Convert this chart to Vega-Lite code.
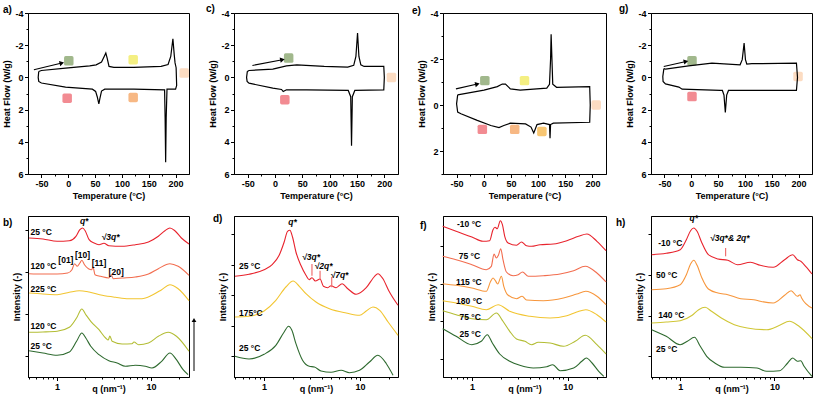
{
"$schema":"https://vega.github.io/schema/vega-lite/v6.json",
"padding":{"left":2,"top":3,"right":2,"bottom":4},
"bounds":"flush",
"align":"each",
"columns":4,
"spacing":{"row":42,"column":45},
"config":{"font":"Liberation Sans","view":{"stroke":"#000","strokeWidth":1},
"axis":{"domainColor":"#000","domainWidth":1,"tickColor":"#000","tickWidth":1,"labelColor":"#000","titleColor":"#000","labelFontWeight":"bold","titleFontWeight":"bold","labelFontSize":9,"titleFontSize":9,"grid":false,"labelPadding":1.5,"titlePadding":3,"labelFlush":false,"labelOverlap":false},
"title":{"fontSize":10,"fontWeight":"bold","anchor":"start","color":"#000","frame":"group","baseline":"alphabetic"}},
"concat":[
{"width":161,"height":161,"title":{"text":"a)","dx":-25,"offset":-5.5},
"encoding":{"x":{"field":"t","type":"quantitative","scale":{"domain":[-75,225],"nice":false,"zero":false},"axis":{"title":"Temperature (°C)","labelOverlap":false,"values":[-50,-25,0,25,50,75,100,125,150,175,200],"labelExpr":"datum.value % 50 == 0 ? '' + datum.value : ''","tickSize":{"condition":{"test":"datum.value % 50 == 0","value":3.5},"value":2}}},
"y":{"field":"hf","type":"quantitative","scale":{"domain":[-4,6],"reverse":true,"nice":false,"zero":false},"axis":{"title":"Heat Flow (W/g)","labelOverlap":false,"values":[-4,-3,-2,-1,0,1,2,3,4,5,6],"labelExpr":"datum.value % 2 == 0 ? '' + datum.value : ''","tickSize":{"condition":{"test":"datum.value % 2 == 0","value":3.5},"value":2}}}},
"layer":[
{"data":{"values":[{"t":1,"hf":-1.03,"c":"sqgreen"},{"t":121,"hf":-1.1,"c":"sqyellow"},{"t":216,"hf":-0.27,"c":"sqpeach"},{"t":-2,"hf":1.29,"c":"sqred"},{"t":121,"hf":1.25,"c":"sqorange"}]},
"mark":{"type":"point","shape":"M-0.65,-1H0.65Q1,-1,1,-0.65V0.65Q1,1,0.65,1H-0.65Q-1,1,-1,0.65V-0.65Q-1,-1,-0.65,-1Z","filled":true,"opacity":1,"size":90},
"encoding":{"color":{"field":"c","type":"nominal","legend":null,"scale":{"domain":["red","ored","orange","yellow","lime","ygreen","green","sqgreen","sqyellow","sqpeach","sqred","sqorange","sqlorange"],"range":["#e8232d","#f26d4f","#f7963c","#f2c531","#d0c636","#b3bd34","#2e6a2f","#a1b88c","#f4ef82","#fcdcc2","#f28b92","#f7b884","#f8c672"]}}}},
{"data":{"values":[{"i":1,"t":-55,"hf":-0.37},{"i":2,"t":-50,"hf":-0.43},{"i":3,"t":-5,"hf":-0.58},{"i":4,"t":40,"hf":-0.72},{"i":5,"t":52,"hf":-0.78},{"i":6,"t":62,"hf":-0.95},{"i":7,"t":67,"hf":-1.3},{"i":8,"t":70,"hf":-1.51},{"i":9,"t":72.5,"hf":-1.2},{"i":10,"t":76,"hf":-0.68},{"i":11,"t":85,"hf":-0.62},{"i":12,"t":122,"hf":-0.62},{"i":13,"t":173,"hf":-0.68},{"i":14,"t":186,"hf":-0.8},{"i":15,"t":191,"hf":-1.3},{"i":16,"t":195,"hf":-2.4},{"i":17,"t":197.5,"hf":-1.4},{"i":18,"t":199,"hf":-0.9},{"i":19,"t":201,"hf":-0.6},{"i":20,"t":202,"hf":0.5},{"i":21,"t":200,"hf":0.73},{"i":22,"t":184,"hf":0.73},{"i":23,"t":182.5,"hf":2.5},{"i":24,"t":181.5,"hf":5.27},{"i":25,"t":180.5,"hf":2.5},{"i":26,"t":179.5,"hf":0.77},{"i":27,"t":122,"hf":0.73},{"i":28,"t":68,"hf":0.73},{"i":29,"t":62,"hf":0.85},{"i":30,"t":59,"hf":1.3},{"i":31,"t":57,"hf":1.64},{"i":32,"t":54,"hf":1.2},{"i":33,"t":51,"hf":0.87},{"i":34,"t":45,"hf":0.73},{"i":35,"t":-5,"hf":0.6},{"i":36,"t":-50,"hf":0.35},{"i":37,"t":-55,"hf":0.25},{"i":38,"t":-56,"hf":0},{"i":39,"t":-55,"hf":-0.37}]},
"mark":{"type":"line","color":"#000","strokeWidth":1.2},
"encoding":{"order":{"field":"i","type":"quantitative"}}},
{"data":{"values":[{"t":-64,"hf":-0.47,"t2":-12,"hf2":-0.89}]},
"mark":{"type":"rule","color":"#000","strokeWidth":1.1},"encoding":{"x2":{"field":"t2"},"y2":{"field":"hf2"}}},
{"data":{"values":[{"t":-12,"hf":-0.89}]},
"mark":{"type":"point","shape":"triangle-right","filled":true,"opacity":1,"color":"#000","size":28,"angle":346},"encoding":{}}
]},
{"width":164,"height":161,"title":{"text":"c)","dx":-28,"offset":-4.5},
"encoding":{"x":{"field":"t","type":"quantitative","scale":{"domain":[-75,225],"nice":false,"zero":false},"axis":{"title":"Temperature (°C)","labelOverlap":false,"values":[-50,-25,0,25,50,75,100,125,150,175,200],"labelExpr":"datum.value % 50 == 0 ? '' + datum.value : ''","tickSize":{"condition":{"test":"datum.value % 50 == 0","value":3.5},"value":2}}},
"y":{"field":"hf","type":"quantitative","scale":{"domain":[-4,6],"reverse":true,"nice":false,"zero":false},"axis":{"title":"Heat Flow (W/g)","labelOverlap":false,"values":[-4,-3,-2,-1,0,1,2,3,4,5,6],"labelExpr":"datum.value % 2 == 0 ? '' + datum.value : ''","tickSize":{"condition":{"test":"datum.value % 2 == 0","value":3.5},"value":2}}}},
"layer":[
{"data":{"values":[{"t":25,"hf":-1.2,"c":"sqgreen"},{"t":18,"hf":1.39,"c":"sqred"},{"t":213,"hf":0,"c":"sqpeach"}]},
"mark":{"type":"point","shape":"M-0.65,-1H0.65Q1,-1,1,-0.65V0.65Q1,1,0.65,1H-0.65Q-1,1,-1,0.65V-0.65Q-1,-1,-0.65,-1Z","filled":true,"opacity":1,"size":90},
"encoding":{"color":{"field":"c","type":"nominal","legend":null,"scale":{"domain":["red","ored","orange","yellow","lime","ygreen","green","sqgreen","sqyellow","sqpeach","sqred","sqorange","sqlorange"],"range":["#e8232d","#f26d4f","#f7963c","#f2c531","#d0c636","#b3bd34","#2e6a2f","#a1b88c","#f4ef82","#fcdcc2","#f28b92","#f7b884","#f8c672"]}}}},
{"data":{"values":[{"i":1,"t":-50.6,"hf":-0.37},{"i":2,"t":-47.5,"hf":-0.43},{"i":3,"t":-4,"hf":-0.51},{"i":4,"t":21,"hf":-0.72},{"i":5,"t":40,"hf":-0.78},{"i":6,"t":90,"hf":-0.68},{"i":7,"t":133,"hf":-0.64},{"i":8,"t":144,"hf":-0.75},{"i":9,"t":148,"hf":-1.3},{"i":10,"t":151,"hf":-2.76},{"i":11,"t":153.5,"hf":-1.3},{"i":12,"t":157,"hf":-0.78},{"i":13,"t":163,"hf":-0.68},{"i":14,"t":199,"hf":-0.68},{"i":15,"t":200,"hf":0},{"i":16,"t":199,"hf":0.77},{"i":17,"t":146,"hf":0.81},{"i":18,"t":141.5,"hf":1.2},{"i":19,"t":140,"hf":4.24},{"i":20,"t":138.5,"hf":1.2},{"i":21,"t":134,"hf":0.81},{"i":22,"t":58,"hf":0.77},{"i":23,"t":21,"hf":0.77},{"i":24,"t":15,"hf":0.88},{"i":25,"t":12,"hf":0.75},{"i":26,"t":-4,"hf":0.67},{"i":27,"t":-47.5,"hf":0.36},{"i":28,"t":-51,"hf":0.25},{"i":29,"t":-52,"hf":0},{"i":30,"t":-50.6,"hf":-0.37}]},
"mark":{"type":"line","color":"#000","strokeWidth":1.2},
"encoding":{"order":{"field":"i","type":"quantitative"}}},
{"data":{"values":[{"t":-41.3,"hf":-0.74,"t2":13.6,"hf2":-1.1}]},
"mark":{"type":"rule","color":"#000","strokeWidth":1.1},"encoding":{"x2":{"field":"t2"},"y2":{"field":"hf2"}}},
{"data":{"values":[{"t":13.6,"hf":-1.1}]},
"mark":{"type":"point","shape":"triangle-right","filled":true,"opacity":1,"color":"#000","size":28,"angle":349},"encoding":{}}
]},
{"width":163,"height":161,"title":{"text":"e)","dx":-31,"offset":-7},
"encoding":{"x":{"field":"t","type":"quantitative","scale":{"domain":[-75,225],"nice":false,"zero":false},"axis":{"title":"Temperature (°C)","labelOverlap":false,"values":[-50,-25,0,25,50,75,100,125,150,175,200],"labelExpr":"datum.value % 50 == 0 ? '' + datum.value : ''","tickSize":{"condition":{"test":"datum.value % 50 == 0","value":3.5},"value":2}}},
"y":{"field":"hf","type":"quantitative","scale":{"domain":[-4,3],"reverse":true,"nice":false,"zero":false},"axis":{"title":"Heat Flow (W/g)","labelOverlap":false,"values":[-4,-3,-2,-1,0,1,2,3],"labelExpr":"datum.value % 2 == 0 ? '' + datum.value : ''","tickSize":{"condition":{"test":"datum.value % 2 == 0","value":3.5},"value":2}}}},
"layer":[
{"data":{"values":[{"t":2,"hf":-1.06,"c":"sqgreen"},{"t":75,"hf":-1.06,"c":"sqyellow"},{"t":207,"hf":0,"c":"sqpeach"},{"t":-2.6,"hf":1.06,"c":"sqred"},{"t":57,"hf":1.06,"c":"sqorange"},{"t":107,"hf":1.15,"c":"sqlorange"}]},
"mark":{"type":"point","shape":"M-0.65,-1H0.65Q1,-1,1,-0.65V0.65Q1,1,0.65,1H-0.65Q-1,1,-1,0.65V-0.65Q-1,-1,-0.65,-1Z","filled":true,"opacity":1,"size":90},
"encoding":{"color":{"field":"c","type":"nominal","legend":null,"scale":{"domain":["red","ored","orange","yellow","lime","ygreen","green","sqgreen","sqyellow","sqpeach","sqred","sqorange","sqlorange"],"range":["#e8232d","#f26d4f","#f7963c","#f2c531","#d0c636","#b3bd34","#2e6a2f","#a1b88c","#f4ef82","#fcdcc2","#f28b92","#f7b884","#f8c672"]}}}},
{"data":{"values":[{"i":1,"t":-48,"hf":-0.44},{"i":2,"t":0.5,"hf":-0.65},{"i":3,"t":25,"hf":-0.8},{"i":4,"t":34,"hf":-0.91},{"i":5,"t":40,"hf":-0.91},{"i":6,"t":49,"hf":-0.7},{"i":7,"t":67,"hf":-0.65},{"i":8,"t":116,"hf":-0.73},{"i":9,"t":121,"hf":-0.9},{"i":10,"t":123,"hf":-2},{"i":11,"t":124,"hf":-3.08},{"i":12,"t":125.5,"hf":-2},{"i":13,"t":127,"hf":-0.9},{"i":14,"t":134,"hf":-0.77},{"i":15,"t":195,"hf":-0.8},{"i":16,"t":196,"hf":0},{"i":17,"t":195,"hf":0.75},{"i":18,"t":128,"hf":0.79},{"i":19,"t":123,"hf":0.85},{"i":20,"t":122,"hf":1.45},{"i":21,"t":121,"hf":0.85},{"i":22,"t":110,"hf":0.79},{"i":23,"t":98,"hf":0.85},{"i":24,"t":94,"hf":1.1},{"i":25,"t":92,"hf":1.22},{"i":26,"t":87,"hf":0.96},{"i":27,"t":77,"hf":0.82},{"i":28,"t":49,"hf":0.79},{"i":29,"t":37,"hf":0.89},{"i":30,"t":28,"hf":0.98},{"i":31,"t":13,"hf":0.89},{"i":32,"t":-12,"hf":0.67},{"i":33,"t":-42,"hf":0.38},{"i":34,"t":-48,"hf":0.31},{"i":35,"t":-50,"hf":-0.05},{"i":36,"t":-48,"hf":-0.44}]},
"mark":{"type":"line","color":"#000","strokeWidth":1.2},
"encoding":{"order":{"field":"i","type":"quantitative"}}},
{"data":{"values":[{"t":-51.2,"hf":-0.7,"t2":-11.7,"hf2":-0.91}]},
"mark":{"type":"rule","color":"#000","strokeWidth":1.1},"encoding":{"x2":{"field":"t2"},"y2":{"field":"hf2"}}},
{"data":{"values":[{"t":-11.7,"hf":-0.91}]},
"mark":{"type":"point","shape":"triangle-right","filled":true,"opacity":1,"color":"#000","size":28,"angle":347},"encoding":{}}
]},
{"width":161,"height":161,"title":{"text":"g)","dx":-32,"offset":-4.5},
"encoding":{"x":{"field":"t","type":"quantitative","scale":{"domain":[-75,225],"nice":false,"zero":false},"axis":{"title":"Temperature (°C)","labelOverlap":false,"values":[-50,-25,0,25,50,75,100,125,150,175,200],"labelExpr":"datum.value % 50 == 0 ? '' + datum.value : ''","tickSize":{"condition":{"test":"datum.value % 50 == 0","value":3.5},"value":2}}},
"y":{"field":"hf","type":"quantitative","scale":{"domain":[-4,6],"reverse":true,"nice":false,"zero":false},"axis":{"title":"Heat Flow (W/g)","labelOverlap":false,"values":[-4,-3,-2,-1,0,1,2,3,4,5,6],"labelExpr":"datum.value % 2 == 0 ? '' + datum.value : ''","tickSize":{"condition":{"test":"datum.value % 2 == 0","value":3.5},"value":2}}}},
"layer":[
{"data":{"values":[{"t":1.4,"hf":-1.03,"c":"sqgreen"},{"t":1.4,"hf":1.19,"c":"sqred"},{"t":199,"hf":-0.06,"c":"sqpeach"}]},
"mark":{"type":"point","shape":"M-0.65,-1H0.65Q1,-1,1,-0.65V0.65Q1,1,0.65,1H-0.65Q-1,1,-1,0.65V-0.65Q-1,-1,-0.65,-1Z","filled":true,"opacity":1,"size":90},
"encoding":{"color":{"field":"c","type":"nominal","legend":null,"scale":{"domain":["red","ored","orange","yellow","lime","ygreen","green","sqgreen","sqyellow","sqpeach","sqred","sqorange","sqlorange"],"range":["#e8232d","#f26d4f","#f7963c","#f2c531","#d0c636","#b3bd34","#2e6a2f","#a1b88c","#f4ef82","#fcdcc2","#f28b92","#f7b884","#f8c672"]}}}},
{"data":{"values":[{"i":1,"t":-51,"hf":-0.55},{"i":2,"t":-48,"hf":-0.51},{"i":3,"t":-5,"hf":-0.72},{"i":4,"t":38.5,"hf":-0.89},{"i":5,"t":91,"hf":-0.78},{"i":6,"t":95,"hf":-1.1},{"i":7,"t":98.5,"hf":-2.13},{"i":8,"t":101,"hf":-1.1},{"i":9,"t":103.5,"hf":-0.83},{"i":10,"t":113,"hf":-0.85},{"i":11,"t":196,"hf":-0.89},{"i":12,"t":198,"hf":0},{"i":13,"t":196,"hf":0.81},{"i":14,"t":69.4,"hf":0.81},{"i":15,"t":66,"hf":1.1},{"i":16,"t":63.5,"hf":2.18},{"i":17,"t":61,"hf":1.1},{"i":18,"t":58,"hf":0.81},{"i":19,"t":54,"hf":0.81},{"i":20,"t":-17,"hf":0.73},{"i":21,"t":-23,"hf":0.6},{"i":22,"t":-48,"hf":0.4},{"i":23,"t":-52.5,"hf":0.25},{"i":24,"t":-53,"hf":-0.06},{"i":25,"t":-51,"hf":-0.55}]},
"mark":{"type":"line","color":"#000","strokeWidth":1.2},
"encoding":{"order":{"field":"i","type":"quantitative"}}},
{"data":{"values":[{"t":-51.2,"hf":-0.68,"t2":-9.8,"hf2":-0.99}]},
"mark":{"type":"rule","color":"#000","strokeWidth":1.1},"encoding":{"x2":{"field":"t2"},"y2":{"field":"hf2"}}},
{"data":{"values":[{"t":-9.8,"hf":-0.99}]},
"mark":{"type":"point","shape":"triangle-right","filled":true,"opacity":1,"color":"#000","size":28,"angle":347},"encoding":{}}
]},
{"width":161,"height":161,"title":{"text":"b)","dx":-25,"offset":-11.5},
"layer":[
{"data":{"values":[
{"s":"red","q":0.503,"y":139},{"s":"red","q":0.707,"y":138},{"s":"red","q":1,"y":135.7},{"s":"red","q":1.349,"y":136.3},{"s":"red","q":1.585,"y":140.7},{"s":"red","q":1.746,"y":147.3},{"s":"red","q":1.862,"y":149},{"s":"red","q":1.988,"y":146.3},{"s":"red","q":2.19,"y":137.3},{"s":"red","q":2.47,"y":134},{"s":"red","q":2.79,"y":132.3},{"s":"red","q":3.15,"y":133.7},{"s":"red","q":3.55,"y":131.3},{"s":"red","q":4.91,"y":130.7},{"s":"red","q":6.79,"y":132.3},{"s":"red","q":9.37,"y":135},{"s":"red","q":11.94,"y":140.7},{"s":"red","q":14.03,"y":146.3},{"s":"red","q":15.85,"y":149},{"s":"red","q":17.9,"y":146.3},{"s":"red","q":21,"y":139},{"s":"red","q":25.3,"y":133},
{"s":"ored","q":0.503,"y":103.3},{"s":"ored","q":0.707,"y":103},{"s":"ored","q":1,"y":103},{"s":"ored","q":1.295,"y":104},{"s":"ored","q":1.438,"y":107.3},{"s":"ored","q":1.535,"y":113.3},{"s":"ored","q":1.637,"y":110.7},{"s":"ored","q":1.746,"y":114},{"s":"ored","q":1.833,"y":116.7},{"s":"ored","q":1.955,"y":112.3},{"s":"ored","q":2.155,"y":108.3},{"s":"ored","q":2.335,"y":107.3},{"s":"ored","q":2.41,"y":110},{"s":"ored","q":2.53,"y":102.3},{"s":"ored","q":2.9,"y":100.7},{"s":"ored","q":3.55,"y":99},{"s":"ored","q":3.76,"y":102.3},{"s":"ored","q":3.95,"y":98.3},{"s":"ored","q":4.91,"y":99},{"s":"ored","q":6.79,"y":100},{"s":"ored","q":9.37,"y":103},{"s":"ored","q":11.94,"y":108.3},{"s":"ored","q":15.85,"y":113.3},{"s":"ored","q":19.4,"y":110.7},{"s":"ored","q":25.3,"y":101.7},
{"s":"yellow","q":0.503,"y":84},{"s":"yellow","q":0.707,"y":83},{"s":"yellow","q":1,"y":82.3},{"s":"yellow","q":1.349,"y":84.7},{"s":"yellow","q":1.718,"y":86.3},{"s":"yellow","q":2.19,"y":85},{"s":"yellow","q":3.02,"y":81.7},{"s":"yellow","q":4.18,"y":79.7},{"s":"yellow","q":5.77,"y":78.3},{"s":"yellow","q":7.98,"y":78.3},{"s":"yellow","q":10.2,"y":81.7},{"s":"yellow","q":12.95,"y":87.3},{"s":"yellow","q":15.85,"y":92.3},{"s":"yellow","q":19.4,"y":88.3},{"s":"yellow","q":25.3,"y":76.3},
{"s":"ygreen","q":0.503,"y":44.7},{"s":"ygreen","q":0.707,"y":45},{"s":"ygreen","q":1,"y":45.7},{"s":"ygreen","q":1.349,"y":49.7},{"s":"ygreen","q":1.61,"y":59},{"s":"ygreen","q":1.833,"y":68},{"s":"ygreen","q":2.02,"y":62.3},{"s":"ygreen","q":2.28,"y":55.7},{"s":"ygreen","q":2.79,"y":47.3},{"s":"ygreen","q":3.28,"y":39},{"s":"ygreen","q":3.5,"y":37},{"s":"ygreen","q":3.64,"y":41},{"s":"ygreen","q":3.85,"y":35.7},{"s":"ygreen","q":4.91,"y":33},{"s":"ygreen","q":6.26,"y":33.3},{"s":"ygreen","q":6.57,"y":35},{"s":"ygreen","q":7.36,"y":32.3},{"s":"ygreen","q":9.37,"y":34},{"s":"ygreen","q":11.94,"y":40.7},{"s":"ygreen","q":15.2,"y":44.7},{"s":"ygreen","q":18.6,"y":40.7},{"s":"ygreen","q":25.3,"y":25.7},
{"s":"green","q":0.503,"y":26.3},{"s":"green","q":0.707,"y":24},{"s":"green","q":1,"y":21.7},{"s":"green","q":1.349,"y":25},{"s":"green","q":1.61,"y":35.7},{"s":"green","q":1.833,"y":44},{"s":"green","q":2.02,"y":39},{"s":"green","q":2.28,"y":30.7},{"s":"green","q":2.79,"y":22.3},{"s":"green","q":3.55,"y":16.3},{"s":"green","q":4.35,"y":14},{"s":"green","q":5.33,"y":10.7},{"s":"green","q":6.79,"y":11.7},{"s":"green","q":8.65,"y":10.7},{"s":"green","q":10.2,"y":9},{"s":"green","q":12.95,"y":15.7},{"s":"green","q":15.85,"y":24},{"s":"green","q":18.6,"y":17.3},{"s":"green","q":21.9,"y":7.3},{"s":"green","q":24.7,"y":2.3}]},
"mark":{"type":"line","strokeWidth":1.1,"interpolate":"monotone"},
"encoding":{"x":{"field":"q","type":"quantitative","scale":{"type":"log","domain":[0.49,25.3],"nice":false},"axis":{"title":"q (nm⁻¹)","labelOverlap":false,"titleBaseline":"alphabetic","titleY":14,"values":[0.5,0.6,0.7,0.8,0.9,1,2,3,4,5,6,7,8,9,10,20],"labelExpr":"datum.value == 1 || datum.value == 10 ? '' + datum.value : ''","tickSize":{"condition":{"test":"datum.value == 1 || datum.value == 10","value":3.5},"value":2}}},
"y":{"field":"y","type":"quantitative","scale":{"domain":[0,161],"nice":false,"zero":false},"axis":{"title":"Intensity (-)","labels":false,"tickSize":3,"values":[20.7,41.8,62.9,84,105.1,126.2,147.3]}},
"color":{"field":"s","type":"nominal","legend":null,"scale":{"domain":["red","ored","orange","yellow","lime","ygreen","green","sqgreen","sqyellow","sqpeach","sqred","sqorange","sqlorange"],"range":["#e8232d","#f26d4f","#f7963c","#f2c531","#d0c636","#b3bd34","#2e6a2f","#a1b88c","#f4ef82","#fcdcc2","#f28b92","#f7b884","#f8c672"]}}}},
{"data":{"values":[{"q":0.52,"y":144.7,"label":"25 °C"},{"q":0.52,"y":110.7,"label":"120 °C"},{"q":0.52,"y":88,"label":"225 °C"},{"q":0.52,"y":50.7,"label":"120 °C"},{"q":0.52,"y":30.7,"label":"25 °C"}]},
"mark":{"type":"text","align":"left","baseline":"middle","fontWeight":"bold","fontSize":8.5,"color":"#000"},
"encoding":{"x":{"field":"q","type":"quantitative"},"y":{"field":"y","type":"quantitative"},"text":{"field":"label"}}},
{"data":{"values":[{"q":1.24,"y":116.7,"label":"[01]"},{"q":1.86,"y":122.3,"label":"[10]"},{"q":2.79,"y":114,"label":"[11]"},{"q":4.25,"y":105,"label":"[20]"}]},
"mark":{"type":"text","align":"center","baseline":"middle","fontWeight":"bold","fontSize":8.5,"color":"#000"},
"encoding":{"x":{"field":"q","type":"quantitative"},"y":{"field":"y","type":"quantitative"},"text":{"field":"label"}}},
{"data":{"values":[{"q":1.94,"y":156.3,"label":"q*"},{"q":3.7,"y":140,"label":"√3q*"}]},
"mark":{"type":"text","align":"center","baseline":"middle","fontWeight":"bold","fontStyle":"italic","fontSize":8.5,"color":"#000"},
"encoding":{"x":{"field":"q","type":"quantitative"},"y":{"field":"y","type":"quantitative"},"text":{"field":"label"}}},
{"data":{"values":[{"q":28.6,"y":6,"y2":57}]},
"layer":[
{"mark":{"type":"rule","color":"#000","strokeWidth":1},"encoding":{"x":{"field":"q","type":"quantitative"},"y":{"field":"y","type":"quantitative"},"y2":{"field":"y2"}}},
{"mark":{"type":"point","shape":"triangle-up","filled":true,"opacity":1,"color":"#000","size":22},"encoding":{"x":{"field":"q","type":"quantitative"},"y":{"field":"y2","type":"quantitative"}}}]}
]},
{"width":164,"height":161,"title":{"text":"d)","dx":-21,"offset":-7.5},
"layer":[
{"data":{"values":[
{"s":"red","q":0.496,"y":100.7},{"s":"red","q":0.696,"y":102.7},{"s":"red","q":1,"y":107.3},{"s":"red","q":1.223,"y":112.7},{"s":"red","q":1.436,"y":121.7},{"s":"red","q":1.62,"y":135},{"s":"red","q":1.757,"y":145.7},{"s":"red","q":1.858,"y":146.7},{"s":"red","q":1.98,"y":140},{"s":"red","q":2.15,"y":125},{"s":"red","q":2.42,"y":111.7},{"s":"red","q":2.735,"y":101.7},{"s":"red","q":2.96,"y":97.3},{"s":"red","q":3.16,"y":99.3},{"s":"red","q":3.43,"y":96},{"s":"red","q":3.84,"y":98},{"s":"red","q":4.16,"y":90.7},{"s":"red","q":4.62,"y":89.3},{"s":"red","q":5,"y":91.3},{"s":"red","q":5.64,"y":89.3},{"s":"red","q":6.53,"y":93.3},{"s":"red","q":7.48,"y":88.3},{"s":"red","q":9.16,"y":82.7},{"s":"red","q":11.65,"y":89.3},{"s":"red","q":14.25,"y":100.7},{"s":"red","q":15.4,"y":103.3},{"s":"red","q":17.4,"y":98.3},{"s":"red","q":20.1,"y":86},{"s":"red","q":25,"y":71.7},
{"s":"yellow","q":0.496,"y":60},{"s":"yellow","q":0.696,"y":60.7},{"s":"yellow","q":1,"y":66},{"s":"yellow","q":1.326,"y":76.7},{"s":"yellow","q":1.687,"y":90},{"s":"yellow","q":2.01,"y":96},{"s":"yellow","q":2.33,"y":90.7},{"s":"yellow","q":2.735,"y":83.3},{"s":"yellow","q":3.48,"y":75},{"s":"yellow","q":4.81,"y":68.3},{"s":"yellow","q":7.19,"y":64},{"s":"yellow","q":9.92,"y":61.7},{"s":"yellow","q":11.65,"y":66},{"s":"yellow","q":13.7,"y":70},{"s":"yellow","q":16.1,"y":66.7},{"s":"yellow","q":19.7,"y":55},{"s":"yellow","q":25,"y":41.7},
{"s":"green","q":0.496,"y":20.7},{"s":"green","q":0.696,"y":18},{"s":"green","q":1,"y":22.7},{"s":"green","q":1.326,"y":31.7},{"s":"green","q":1.62,"y":45},{"s":"green","q":1.8,"y":50.7},{"s":"green","q":1.95,"y":46.7},{"s":"green","q":2.15,"y":33.3},{"s":"green","q":2.52,"y":16.7},{"s":"green","q":2.96,"y":10.7},{"s":"green","q":3.35,"y":10},{"s":"green","q":3.93,"y":6},{"s":"green","q":5,"y":4.7},{"s":"green","q":6.37,"y":6.7},{"s":"green","q":7.79,"y":4.3},{"s":"green","q":9.92,"y":6.7},{"s":"green","q":12.6,"y":15},{"s":"green","q":15.4,"y":21.7},{"s":"green","q":18.9,"y":13.3},{"s":"green","q":22.2,"y":1.7}]},
"mark":{"type":"line","strokeWidth":1.1,"interpolate":"monotone"},
"encoding":{"x":{"field":"q","type":"quantitative","scale":{"type":"log","domain":[0.485,25],"nice":false},"axis":{"title":"q (nm⁻¹)","labelOverlap":false,"titleBaseline":"alphabetic","titleY":14,"values":[0.5,0.6,0.7,0.8,0.9,1,2,3,4,5,6,7,8,9,10,20],"labelExpr":"datum.value == 1 || datum.value == 10 ? '' + datum.value : ''","tickSize":{"condition":{"test":"datum.value == 1 || datum.value == 10","value":3.5},"value":2}}},
"y":{"field":"y","type":"quantitative","scale":{"domain":[0,161],"nice":false,"zero":false},"axis":{"title":"Intensity (-)","labels":false,"tickSize":3,"values":[21,51.4,81.8,112.2,142.6]}},
"color":{"field":"s","type":"nominal","legend":null,"scale":{"domain":["red","ored","orange","yellow","lime","ygreen","green","sqgreen","sqyellow","sqpeach","sqred","sqorange","sqlorange"],"range":["#e8232d","#f26d4f","#f7963c","#f2c531","#d0c636","#b3bd34","#2e6a2f","#a1b88c","#f4ef82","#fcdcc2","#f28b92","#f7b884","#f8c672"]}}}},
{"data":{"values":[{"q":3.16,"y":113,"y2":101.3},{"q":3.84,"y":106.3,"y2":98},{"q":5.08,"y":100,"y2":89.7}]},
"mark":{"type":"rule","color":"#f07070","strokeWidth":1.2},
"encoding":{"x":{"field":"q","type":"quantitative"},"y":{"field":"y","type":"quantitative"},"y2":{"field":"y2"}}},
{"data":{"values":[{"q":0.547,"y":110.7,"label":"25 °C"},{"q":0.547,"y":64,"label":"175°C"},{"q":0.547,"y":29.3,"label":"25 °C"}]},
"mark":{"type":"text","align":"left","baseline":"middle","fontWeight":"bold","fontSize":8.5,"color":"#000"},
"encoding":{"x":{"field":"q","type":"quantitative"},"y":{"field":"y","type":"quantitative"},"text":{"field":"label"}}},
{"data":{"values":[{"q":1.98,"y":155,"label":"q*"},{"q":3.09,"y":119.7,"label":"√3q*"},{"q":4.17,"y":111,"label":"√2q*"},{"q":6.12,"y":101.6,"label":"√7q*"}]},
"mark":{"type":"text","align":"center","baseline":"middle","fontWeight":"bold","fontStyle":"italic","fontSize":8.5,"color":"#000"},
"encoding":{"x":{"field":"q","type":"quantitative"},"y":{"field":"y","type":"quantitative"},"text":{"field":"label"}}}
]},
{"width":163,"height":161,"title":{"text":"f)","dx":-23,"offset":-14.5},
"layer":[
{"data":{"values":[
{"s":"red","q":0.496,"y":150.7},{"s":"red","q":0.685,"y":145.7},{"s":"red","q":1,"y":140},{"s":"red","q":1.304,"y":135.7},{"s":"red","q":1.532,"y":136.3},{"s":"red","q":1.66,"y":147.3},{"s":"red","q":1.742,"y":149.7},{"s":"red","q":1.84,"y":148.3},{"s":"red","q":1.98,"y":156.3},{"s":"red","q":2.08,"y":152.3},{"s":"red","q":2.2,"y":140.7},{"s":"red","q":2.39,"y":134},{"s":"red","q":2.92,"y":131.7},{"s":"red","q":3.29,"y":135},{"s":"red","q":3.71,"y":131.3},{"s":"red","q":4.19,"y":130.7},{"s":"red","q":5.13,"y":132.3},{"s":"red","q":7.07,"y":133},{"s":"red","q":9.77,"y":136.3},{"s":"red","q":12.94,"y":140.7},{"s":"red","q":15.8,"y":143},{"s":"red","q":20.1,"y":135.7},{"s":"red","q":25,"y":126.3},
{"s":"ored","q":0.496,"y":120.7},{"s":"ored","q":0.685,"y":117.3},{"s":"ored","q":1,"y":112.3},{"s":"ored","q":1.414,"y":107.3},{"s":"ored","q":1.595,"y":110.7},{"s":"ored","q":1.7,"y":123},{"s":"ored","q":1.8,"y":119},{"s":"ored","q":1.89,"y":121.7},{"s":"ored","q":2.0,"y":128.3},{"s":"ored","q":2.11,"y":117.3},{"s":"ored","q":2.29,"y":105},{"s":"ored","q":2.69,"y":101.3},{"s":"ored","q":3.04,"y":102.3},{"s":"ored","q":3.37,"y":105},{"s":"ored","q":3.87,"y":100.7},{"s":"ored","q":5.55,"y":101.3},{"s":"ored","q":8.3,"y":103},{"s":"ored","q":11.5,"y":106.3},{"s":"ored","q":15.2,"y":110.7},{"s":"ored","q":20.1,"y":104},{"s":"ored","q":25,"y":95},
{"s":"orange","q":0.496,"y":93.3},{"s":"orange","q":0.685,"y":91.7},{"s":"orange","q":1,"y":89},{"s":"orange","q":1.414,"y":85.7},{"s":"orange","q":1.57,"y":95.7},{"s":"orange","q":1.66,"y":99},{"s":"orange","q":1.757,"y":96.3},{"s":"orange","q":1.858,"y":93},{"s":"orange","q":2.03,"y":100.7},{"s":"orange","q":2.15,"y":90.7},{"s":"orange","q":2.39,"y":81.7},{"s":"orange","q":2.92,"y":78.3},{"s":"orange","q":3.34,"y":80.7},{"s":"orange","q":3.71,"y":77},{"s":"orange","q":5.55,"y":76.3},{"s":"orange","q":9.0,"y":79},{"s":"orange","q":12.4,"y":83},{"s":"orange","q":15.4,"y":85.7},{"s":"orange","q":20.1,"y":80.7},{"s":"orange","q":25,"y":72.3},
{"s":"yellow","q":0.496,"y":76.3},{"s":"yellow","q":0.685,"y":74},{"s":"yellow","q":1,"y":70.7},{"s":"yellow","q":1.414,"y":67.3},{"s":"yellow","q":1.875,"y":72.3},{"s":"yellow","q":2.48,"y":65.7},{"s":"yellow","q":4.03,"y":60.7},{"s":"yellow","q":6.53,"y":59},{"s":"yellow","q":9.77,"y":61.3},{"s":"yellow","q":12.4,"y":65},{"s":"yellow","q":15.4,"y":67.3},{"s":"yellow","q":20.1,"y":62.3},{"s":"yellow","q":25,"y":55},
{"s":"ygreen","q":0.496,"y":66.3},{"s":"ygreen","q":0.685,"y":62.3},{"s":"ygreen","q":1,"y":58.3},{"s":"ygreen","q":1.414,"y":57.3},{"s":"ygreen","q":1.8,"y":64},{"s":"ygreen","q":2.11,"y":55.7},{"s":"ygreen","q":2.48,"y":45.7},{"s":"ygreen","q":2.92,"y":38},{"s":"ygreen","q":3.57,"y":35.7},{"s":"ygreen","q":4.19,"y":32.3},{"s":"ygreen","q":4.92,"y":34.7},{"s":"ygreen","q":6.53,"y":34},{"s":"ygreen","q":9.0,"y":30.7},{"s":"ygreen","q":11.94,"y":35.7},{"s":"ygreen","q":15.2,"y":41.7},{"s":"ygreen","q":20.1,"y":32.3},{"s":"ygreen","q":25,"y":23},
{"s":"green","q":0.496,"y":48.3},{"s":"green","q":0.685,"y":40.7},{"s":"green","q":1,"y":32.3},{"s":"green","q":1.253,"y":35.7},{"s":"green","q":1.448,"y":42.3},{"s":"green","q":1.634,"y":34},{"s":"green","q":1.95,"y":23},{"s":"green","q":2.48,"y":15.7},{"s":"green","q":3.16,"y":11.7},{"s":"green","q":4.36,"y":9},{"s":"green","q":6.03,"y":10.3},{"s":"green","q":6.96,"y":12.3},{"s":"green","q":8.3,"y":6.3},{"s":"green","q":11.5,"y":9},{"s":"green","q":14.0,"y":15.7},{"s":"green","q":15.6,"y":19},{"s":"green","q":17.9,"y":14},{"s":"green","q":21.0,"y":5.7},{"s":"green","q":23.7,"y":0.7}]},
"mark":{"type":"line","strokeWidth":1.1,"interpolate":"monotone"},
"encoding":{"x":{"field":"q","type":"quantitative","scale":{"type":"log","domain":[0.5,25],"nice":false},"axis":{"title":"q (nm⁻¹)","labelOverlap":false,"titleBaseline":"alphabetic","titleY":14,"values":[0.6,0.7,0.8,0.9,1,2,3,4,5,6,7,8,9,10,20],"labelExpr":"datum.value == 1 || datum.value == 10 ? '' + datum.value : ''","tickSize":{"condition":{"test":"datum.value == 1 || datum.value == 10","value":3.5},"value":2}}},
"y":{"field":"y","type":"quantitative","scale":{"domain":[0,161],"nice":false,"zero":false},"axis":{"title":"Intensity (-)","labels":false,"tickSize":3,"values":[18.3,37,55.7,74.4,93.1,111.8,130.5,149.2]}},
"color":{"field":"s","type":"nominal","legend":null,"scale":{"domain":["red","ored","orange","yellow","lime","ygreen","green","sqgreen","sqyellow","sqpeach","sqred","sqorange","sqlorange"],"range":["#e8232d","#f26d4f","#f7963c","#f2c531","#d0c636","#b3bd34","#2e6a2f","#a1b88c","#f4ef82","#fcdcc2","#f28b92","#f7b884","#f8c672"]}}}},
{"data":{"values":[{"q":0.7,"y":153,"label":"-10 °C"},{"q":0.73,"y":120.7,"label":"75 °C"},{"q":0.685,"y":95,"label":"115 °C"},{"q":0.685,"y":76.3,"label":"180 °C"},{"q":0.742,"y":59.7,"label":"75 °C"},{"q":0.742,"y":43,"label":"25 °C"}]},
"mark":{"type":"text","align":"left","baseline":"middle","fontWeight":"bold","fontSize":8.5,"color":"#000"},
"encoding":{"x":{"field":"q","type":"quantitative"},"y":{"field":"y","type":"quantitative"},"text":{"field":"label"}}}
]},
{"width":161,"height":161,"title":{"text":"h)","dx":-35,"offset":-13.5},
"layer":[
{"data":{"values":[
{"s":"red","q":0.498,"y":122.3},{"s":"red","q":0.711,"y":123.7},{"s":"red","q":1,"y":127.3},{"s":"red","q":1.162,"y":137.3},{"s":"red","q":1.288,"y":146.3},{"s":"red","q":1.394,"y":149},{"s":"red","q":1.509,"y":145.7},{"s":"red","q":1.7,"y":134},{"s":"red","q":1.99,"y":122.3},{"s":"red","q":2.52,"y":118},{"s":"red","q":3.2,"y":116.7},{"s":"red","q":4.05,"y":112.3},{"s":"red","q":5.57,"y":114.7},{"s":"red","q":7.06,"y":111.7},{"s":"red","q":9.69,"y":109.7},{"s":"red","q":12.8,"y":117.3},{"s":"red","q":15.6,"y":122.3},{"s":"red","q":17.5,"y":117.3},{"s":"red","q":19.0,"y":115.7},{"s":"red","q":21.4,"y":110.7},{"s":"red","q":25,"y":103},
{"s":"orange","q":0.498,"y":87.3},{"s":"orange","q":0.711,"y":88.3},{"s":"orange","q":1,"y":92.3},{"s":"orange","q":1.162,"y":102.3},{"s":"orange","q":1.288,"y":113},{"s":"orange","q":1.394,"y":116.7},{"s":"orange","q":1.509,"y":111.7},{"s":"orange","q":1.7,"y":99},{"s":"orange","q":1.99,"y":88},{"s":"orange","q":2.52,"y":84},{"s":"orange","q":3.2,"y":82.3},{"s":"orange","q":4.39,"y":78.3},{"s":"orange","q":6.03,"y":77.3},{"s":"orange","q":7.06,"y":75.7},{"s":"orange","q":9.69,"y":74},{"s":"orange","q":12.8,"y":81.7},{"s":"orange","q":15.0,"y":86.3},{"s":"orange","q":17.5,"y":80.7},{"s":"orange","q":18.7,"y":82.3},{"s":"orange","q":19.4,"y":79},{"s":"orange","q":25,"y":69},
{"s":"lime","q":0.498,"y":54},{"s":"lime","q":0.711,"y":55},{"s":"lime","q":1,"y":56.3},{"s":"lime","q":1.34,"y":61.7},{"s":"lime","q":1.57,"y":67.3},{"s":"lime","q":1.84,"y":69.7},{"s":"lime","q":2.15,"y":65.7},{"s":"lime","q":2.73,"y":59},{"s":"lime","q":3.75,"y":52.3},{"s":"lime","q":5.14,"y":49},{"s":"lime","q":8.27,"y":47.3},{"s":"lime","q":11.35,"y":51.7},{"s":"lime","q":14.4,"y":55.7},{"s":"lime","q":18.2,"y":50.7},{"s":"lime","q":25,"y":38.3},
{"s":"green","q":0.498,"y":47.3},{"s":"green","q":0.711,"y":40.7},{"s":"green","q":1,"y":32.3},{"s":"green","q":1.19,"y":35.7},{"s":"green","q":1.417,"y":39.7},{"s":"green","q":1.633,"y":30.7},{"s":"green","q":1.91,"y":20.7},{"s":"green","q":2.33,"y":14},{"s":"green","q":2.96,"y":9.7},{"s":"green","q":4.39,"y":9.7},{"s":"green","q":6.52,"y":9},{"s":"green","q":8.27,"y":5.7},{"s":"green","q":11.35,"y":6.3},{"s":"green","q":13.8,"y":14},{"s":"green","q":15.6,"y":19},{"s":"green","q":17.5,"y":15.7},{"s":"green","q":19.0,"y":16.3},{"s":"green","q":20.6,"y":10.7},{"s":"green","q":25,"y":0.7}]},
"mark":{"type":"line","strokeWidth":1.1,"interpolate":"monotone"},
"encoding":{"x":{"field":"q","type":"quantitative","scale":{"type":"log","domain":[0.49,25],"nice":false},"axis":{"title":"q (nm⁻¹)","labelOverlap":false,"titleBaseline":"alphabetic","titleY":14,"values":[0.5,0.6,0.7,0.8,0.9,1,2,3,4,5,6,7,8,9,10,20],"labelExpr":"datum.value == 1 || datum.value == 10 ? '' + datum.value : ''","tickSize":{"condition":{"test":"datum.value == 1 || datum.value == 10","value":3.5},"value":2}}},
"y":{"field":"y","type":"quantitative","scale":{"domain":[0,161],"nice":false,"zero":false},"axis":{"title":"Intensity (-)","labels":false,"tickSize":3,"values":[20.7,41.1,61.5,81.9,102.3,122.7,143.1]}},
"color":{"field":"s","type":"nominal","legend":null,"scale":{"domain":["red","ored","orange","yellow","lime","ygreen","green","sqgreen","sqyellow","sqpeach","sqred","sqorange","sqlorange"],"range":["#e8232d","#f26d4f","#f7963c","#f2c531","#d0c636","#b3bd34","#2e6a2f","#a1b88c","#f4ef82","#fcdcc2","#f28b92","#f7b884","#f8c672"]}}}},
{"data":{"values":[{"q":3.03,"y":129,"y2":120.7}]},
"mark":{"type":"rule","color":"#f07070","strokeWidth":1.2},
"encoding":{"x":{"field":"q","type":"quantitative"},"y":{"field":"y","type":"quantitative"},"y2":{"field":"y2"}}},
{"data":{"values":[{"q":0.584,"y":134,"label":"-10 °C"},{"q":0.553,"y":102.3,"label":"50 °C"},{"q":0.584,"y":62.3,"label":"140 °C"},{"q":0.553,"y":28.3,"label":"25 °C"}]},
"mark":{"type":"text","align":"left","baseline":"middle","fontWeight":"bold","fontSize":8.5,"color":"#000"},
"encoding":{"x":{"field":"q","type":"quantitative"},"y":{"field":"y","type":"quantitative"},"text":{"field":"label"}}},
{"data":{"values":[{"q":1.39,"y":159,"label":"q*"}]},
"mark":{"type":"text","align":"center","baseline":"middle","fontWeight":"bold","fontStyle":"italic","fontSize":8.5,"color":"#000"},
"encoding":{"x":{"field":"q","type":"quantitative"},"y":{"field":"y","type":"quantitative"},"text":{"field":"label"}}},
{"data":{"values":[{"q":2.07,"y":139,"label":"√3q*& 2q*"}]},
"mark":{"type":"text","align":"left","baseline":"middle","fontWeight":"bold","fontStyle":"italic","fontSize":8.5,"color":"#000"},
"encoding":{"x":{"field":"q","type":"quantitative"},"y":{"field":"y","type":"quantitative"},"text":{"field":"label"}}}
]}
]
}
